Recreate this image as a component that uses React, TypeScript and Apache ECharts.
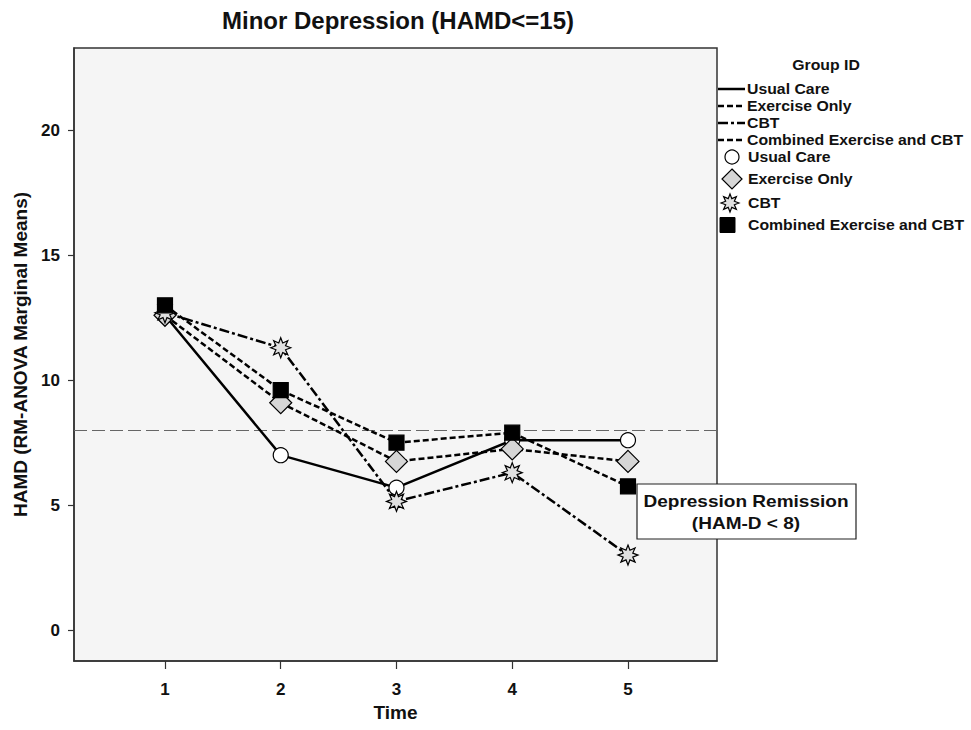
import React, { useEffect, useRef } from "react";
import * as echarts from "echarts";

const timePoints = [1, 2, 3, 4, 5];
const usualCare = [12.6, 7.0, 5.7, 7.6, 7.6];
const exerciseOnly = [12.6, 9.1, 6.75, 7.25, 6.75];
const cbt = [12.7, 11.3, 5.15, 6.3, 3.0];
const combined = [13.0, 9.6, 7.5, 7.9, 5.75];
const yTicks = [0, 5, 10, 15, 20];
const remissionThreshold = 8;
const groupNames = ["Usual Care", "Exercise Only", "CBT", "Combined Exercise and CBT"];

const FONT = "'Liberation Sans', Arial, sans-serif";

function starPoints(cx: number, cy: number, R: number, r: number, n = 8): number[][] {
  const pts: number[][] = [];
  for (let i = 0; i < n * 2; i++) {
    const a = (Math.PI * i) / n - Math.PI / 2;
    const rad = i % 2 === 0 ? R : r;
    pts.push([cx + rad * Math.cos(a), cy + rad * Math.sin(a)]);
  }
  return pts;
}
const starPath =
  "path://" +
  starPoints(10, 10, 10, 5.2)
    .map((p, i) => (i === 0 ? "M" : "L") + p[0].toFixed(2) + " " + p[1].toFixed(2))
    .join(" ") +
  " Z";

const pair = (vals: number[]) => timePoints.map((t, i) => [t, vals[i]]);

export default function App() {
  const ref = useRef<HTMLDivElement>(null);
  useEffect(() => {
    if (!ref.current) return;
    const chart = echarts.init(ref.current, undefined, { renderer: "svg" });
    const lineW = 2.5;
    const dashEx = [6, 3];
    const dashCbt = [10, 3, 3, 3];
    const lineDefs = [
      { name: groupNames[0], data: usualCare, type: "solid" as any },
      { name: groupNames[1], data: exerciseOnly, type: dashEx },
      { name: groupNames[2], data: cbt, type: dashCbt },
      { name: groupNames[3], data: combined, type: dashEx },
    ];
    const markerDefs = [
      { name: groupNames[0], data: usualCare, symbol: "circle", size: 15, color: "#ffffff" },
      { name: groupNames[1], data: exerciseOnly, symbol: "diamond", size: [22, 22], color: "#d6d6d6" },
      { name: groupNames[2], data: cbt, symbol: starPath, size: 20, color: "#e0e0e0" },
      { name: groupNames[3], data: combined, symbol: "rect", size: 15, color: "#000000" },
    ];
    const series: any[] = [];
    lineDefs.forEach((d, i) => {
      const s: any = {
        type: "line",
        name: d.name,
        data: pair(d.data),
        showSymbol: false,
        symbol: "none",
        lineStyle: { color: "#000", width: lineW, type: d.type, opacity: 1 },
        z: 2,
      };
      if (i === 0) {
        s.markLine = {
          silent: true,
          symbol: "none",
          label: { show: false },
          lineStyle: { color: "#666", width: 1, type: [13, 5] },
          data: [{ yAxis: remissionThreshold }],
          z: 1,
        };
      }
      series.push(s);
    });
    markerDefs.forEach((d, i) => {
      series.push({
        type: "scatter",
        name: d.name + " marker",
        data: pair(d.data),
        symbol: d.symbol,
        symbolSize: d.size,
        itemStyle: { color: d.color, borderColor: "#000", borderWidth: 1.2, opacity: 1 },
        z: 3 + i,
      });
    });

    // legend graphics
    const lx0 = 718, lx1 = 745, tx = 747;
    const lineYs = [89, 106, 123, 140];
    const markYs = [157, 179, 203, 225];
    const textStyle = (t: string, x: number, y: number) => ({
      type: "text",
      x,
      y,
      scaleX: 1.13,
      style: { text: t, fill: "#111", font: `bold 14px ${FONT}`, verticalAlign: "middle" },
    });
    const graphics: any[] = [
      {
        type: "text",
        x: 826,
        y: 65,
        scaleX: 1.13,
        style: { text: "Group ID", fill: "#111", font: `bold 14px ${FONT}`, align: "center", verticalAlign: "middle" },
      },
    ];
    lineDefs.forEach((d, i) => {
      graphics.push({
        type: "line",
        shape: { x1: lx0, y1: lineYs[i], x2: lx1, y2: lineYs[i] },
        style: { stroke: "#000", lineWidth: 2.5, lineDash: d.type === "solid" ? null : d.type },
      });
      graphics.push(textStyle(d.name, tx, lineYs[i]));
    });
    graphics.push({
      type: "circle",
      shape: { cx: 732, cy: markYs[0], r: 7 },
      style: { fill: "#fff", stroke: "#000", lineWidth: 1.2 },
    });
    graphics.push({
      type: "polygon",
      shape: { points: [[732, markYs[1] - 10], [742, markYs[1]], [732, markYs[1] + 10], [722, markYs[1]]] },
      style: { fill: "#d6d6d6", stroke: "#000", lineWidth: 1.2 },
    });
    graphics.push({
      type: "polygon",
      shape: { points: starPoints(730, markYs[2], 9, 4.7) },
      style: { fill: "#e0e0e0", stroke: "#000", lineWidth: 1.2 },
    });
    graphics.push({
      type: "rect",
      shape: { x: 720, y: markYs[3] - 7.5, width: 15, height: 15 },
      style: { fill: "#000", stroke: "#000" },
    });
    groupNames.forEach((n, i) => graphics.push(textStyle(n, tx + 1, markYs[i])));

    // annotation box
    graphics.push({
      type: "rect",
      shape: { x: 637, y: 484, width: 219, height: 55 },
      style: { fill: "#fff", stroke: "#222", lineWidth: 1.2 },
      z: 10,
    });
    graphics.push({
      type: "text",
      x: 746,
      y: 501,
      z: 11,
      scaleX: 1.12,
      style: { text: "Depression Remission", fill: "#111", font: `bold 17px ${FONT}`, align: "center", verticalAlign: "middle" },
    });
    graphics.push({
      type: "text",
      x: 746,
      y: 523,
      z: 11,
      scaleX: 1.12,
      style: { text: "(HAM-D < 8)", fill: "#111", font: `bold 17px ${FONT}`, align: "center", verticalAlign: "middle" },
    });

    chart.setOption({
      animation: false,
      backgroundColor: "#fff",
      title: {
        text: "Minor Depression (HAMD<=15)",
        left: 393,
        textAlign: "center",
        top: 3,
        textStyle: { fontFamily: FONT, fontWeight: "bold", fontSize: 24, color: "#111" },
      },
      grid: {
        left: 74,
        right: 254,
        top: 48,
        bottom: 69,
        show: true,
        outerBoundsMode: "none",
        containLabel: false,
        backgroundColor: "#f5f5f5",
        borderColor: "#333",
        borderWidth: 1.5,
      },
      xAxis: {
        type: "value",
        min: 0.214,
        max: 5.769,
        name: "Time",
        nameLocation: "middle",
        nameGap: 41,
        nameTextStyle: { fontFamily: FONT, fontWeight: "bold", fontSize: 19, color: "#111" },
        axisLine: { show: true, onZero: false, lineStyle: { color: "#333", width: 1.5 } },
        axisTick: { show: true, length: 8, lineStyle: { color: "#333", width: 1.2 }, customValues: timePoints },
        axisLabel: {
          fontFamily: FONT,
          fontWeight: "bold",
          fontSize: 17,
          color: "#111",
          margin: 20,
          customValues: timePoints,
          formatter: (v: number) => String(v),
        },
        splitLine: { show: false },
      },
      yAxis: {
        type: "value",
        min: -1.24,
        max: 23.3,
        name: "HAMD (RM-ANOVA Marginal Means)",
        nameLocation: "middle",
        nameGap: 43,
        nameTextStyle: { fontFamily: FONT, fontWeight: "bold", fontSize: 19, color: "#111" },
        axisLine: { show: true, onZero: false, lineStyle: { color: "#333", width: 1.5 } },
        axisTick: { show: true, length: 6, lineStyle: { color: "#333", width: 1.2 }, customValues: yTicks },
        axisLabel: {
          fontFamily: FONT,
          fontWeight: "bold",
          fontSize: 17,
          color: "#111",
          margin: 14,
          customValues: yTicks,
          formatter: (v: number) => String(v),
        },
        splitLine: { show: false },
      },
      series,
      graphic: graphics,
    });
    return () => chart.dispose();
  }, []);
  return (
    <div
      ref={ref}
      style={{ position: "fixed", left: 0, top: 0, width: 971, height: 730 }}
    />
  );
}
